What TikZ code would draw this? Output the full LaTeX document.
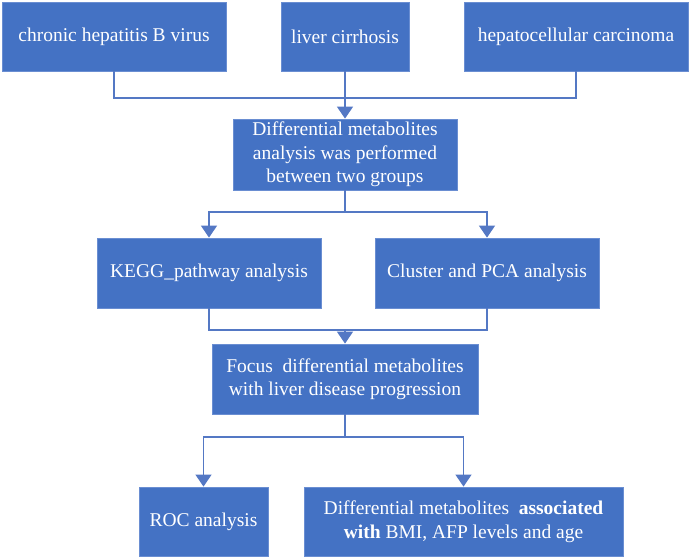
\documentclass[tikz,border=0pt]{standalone}
\usepackage{fontspec}
\setmainfont{Liberation Serif}
\usetikzlibrary{arrows.meta}
\definecolor{boxblue}{HTML}{4472C4}
\definecolor{edgeblue}{HTML}{6A8ED2}
\definecolor{lineblue}{HTML}{5478C4}
\begin{document}
\begin{tikzpicture}[x=1pt,y=-1pt,
  box/.style={draw=edgeblue, line width=0.8pt, fill=boxblue, text=white, align=center,
    inner sep=0pt, font=\fontsize{19.5}{23.5}\selectfont},
  conn/.style={draw=lineblue, line width=1.3pt},
  arr/.style={conn, -{Triangle[width=16pt,length=12pt]}}]
\useasboundingbox (0,0) rectangle (690,558);
\node[box, minimum width=224pt, minimum height=69pt] (b1) at (114,36.5) {chronic hepatitis B virus};
\node[box, minimum width=128pt, minimum height=69pt] (b2) at (345,36.5) {liver cirrhosis};
\node[box, minimum width=224pt, minimum height=69pt] (b3) at (576,36.5) {hepatocellular carcinoma};
\node[box, minimum width=224pt, minimum height=71pt] (b4) at (345,154.5) {Differential metabolites\\analysis was performed\\between two groups};
\node[box, minimum width=224pt, minimum height=70pt] (kegg) at (209,273) {KEGG\_pathway analysis};
\node[box, minimum width=224pt, minimum height=70pt] (clus) at (487,273) {Cluster and PCA analysis};
\node[box, minimum width=266pt, minimum height=70pt] (focus) at (345,379) {Focus\ \ differential metabolites\\with liver disease progression};
\node[box, minimum width=129pt, minimum height=69pt] (roc) at (203.5,521.5) {ROC analysis};
\node[box, minimum width=319pt, minimum height=69pt] (diff) at (463.5,521.5) {Differential metabolites\ \ \textbf{associated}\\\textbf{with} BMI, AFP levels and age};
\coordinate (j1) at (345,98);
\coordinate (j2) at (345,212);
\coordinate (j3) at (345,330);
\coordinate (j4) at (345,437);
\draw[conn] (b1.south) |- (j1);
\draw[conn] (b3.south) |- (j1);
\draw[arr] (b2.south) -- (b4.north);
\draw[conn] (b4.south) -- (j2);
\draw[arr] (j2) -| (kegg.north);
\draw[arr] (j2) -| (clus.north);
\draw[conn] (kegg.south) |- (j3);
\draw[conn] (clus.south) |- (j3);
\draw[arr] (j3) -- (focus.north);
\draw[conn] (focus.south) -- (j4);
\draw[arr] (j4) -| (roc.north);
\draw[arr] (j4) -| (diff.north);
\end{tikzpicture}
\end{document}
